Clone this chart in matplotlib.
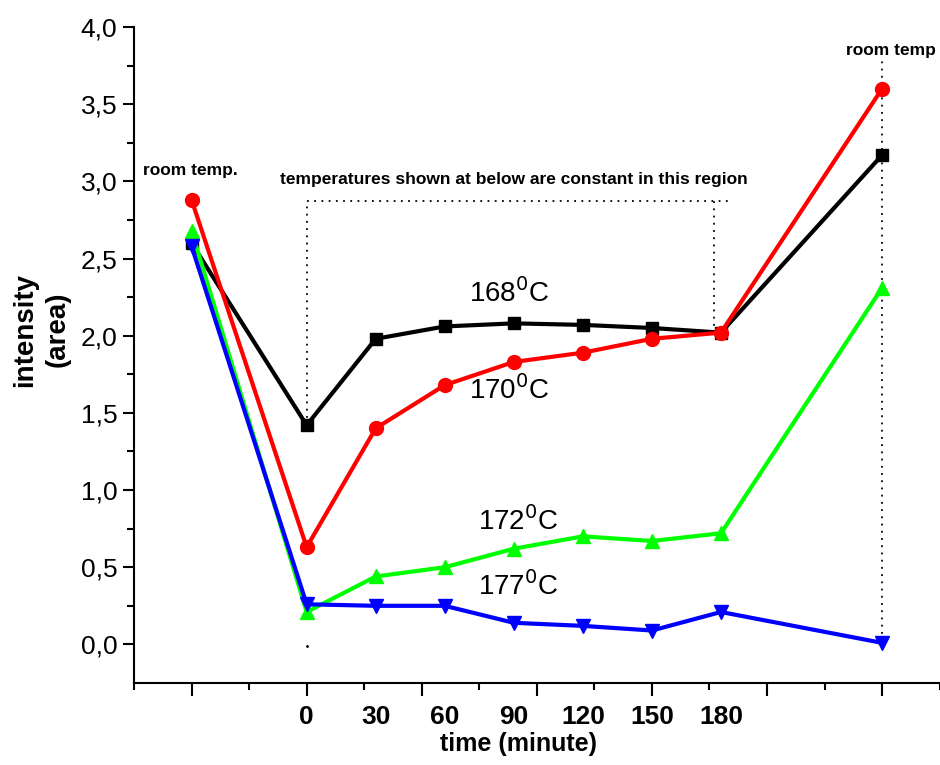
import numpy as np
import matplotlib
matplotlib.use("Agg")
import matplotlib.pyplot as plt
from matplotlib.ticker import FuncFormatter

plt.rcParams['font.family'] = ['Liberation Sans', 'DejaVu Sans']

# x positions: -50 and 250 stand for the room temperature readings
time = [-50, 0, 30, 60, 90, 120, 150, 180, 250]
t168 = [2.60, 1.42, 1.98, 2.06, 2.08, 2.07, 2.05, 2.02, 3.17]
t170 = [2.88, 0.63, 1.40, 1.68, 1.83, 1.89, 1.98, 2.02, 3.60]
t172 = [2.68, 0.21, 0.44, 0.50, 0.62, 0.70, 0.67, 0.72, 2.31]
t177 = [2.58, 0.26, 0.25, 0.25, 0.14, 0.12, 0.09, 0.21, 0.01]

time_labels = [0, 30, 60, 90, 120, 150, 180]

fig = plt.figure(figsize=(9.4, 7.65), dpi=100)
ax = fig.add_axes([0.1426, 0.1072, 0.857, 0.8575])

lw = 3
ms = 10
ax.plot(time, t168, '-s', color='black', lw=lw, ms=ms - 1)
ax.plot(time, t172, '-^', color='#00ff00', lw=lw, ms=ms)
ax.plot(time, t170, '-o', color='red', lw=lw, ms=ms)
ax.plot(time, t177, '-v', color='blue', lw=lw, ms=ms)

# dotted guide lines
dot = dict(color='black', ls=(0, (1, 3)), lw=1.3, zorder=0)
ax.plot([0, 0], [1.42, 2.87], **dot)
ax.plot([0], [-0.01], marker='.', ms=2, color='black')
ax.plot([0, 183], [2.87, 2.87], **dot)
ax.plot([177, 177], [2.02, 2.87], **dot)
ax.plot([250, 250], [0.02, 3.80], **dot)

ax.set_xlim(-75, 275)
ax.set_ylim(-0.25, 4.0)

for s in ['top', 'right']:
    ax.spines[s].set_visible(False)
for s in ['left', 'bottom']:
    ax.spines[s].set_linewidth(1.5)

ax.yaxis.set_major_formatter(FuncFormatter(lambda v, p: f"{v:.1f}".replace('.', ',')))
ax.set_yticks(np.arange(0, 4.01, 0.5))
ax.set_yticks(np.arange(0.25, 4.0, 0.5), minor=True)
ax.tick_params(axis='y', which='major', length=8, width=1.5, labelsize=19, pad=4)
ax.tick_params(axis='y', which='minor', length=5, width=1.5)

ax.set_xticks(np.arange(-50, 275, 50))
ax.set_xticks(np.arange(-75, 276, 50), minor=True)
ax.set_xticklabels([])
ax.tick_params(axis='x', which='major', length=9, width=1.5)
ax.tick_params(axis='x', which='minor', length=5, width=1.5)

for t in time_labels:
    ax.text(t, -0.39, str(t), ha='center', va='top', fontsize=19,
            fontweight='bold')
ax.text(92, -0.57, 'time (minute)', ha='center', va='top', fontsize=18,
        fontweight='bold')

fig.text(0.044, 0.569, 'intensity\n(area)', rotation=90, ha='center',
         va='center', fontsize=20, fontweight='bold', linespacing=1.3)

ax.text(-71, 3.04, 'room temp.', fontsize=12.5, fontweight='bold', ha='left')
ax.text(254, 3.82, 'room temp', fontsize=12.5, fontweight='bold', ha='center')
ax.text(90, 2.98, 'temperatures shown at below are constant in this region',
        fontsize=12.5, fontweight='bold', ha='center')

ax.text(88, 2.22, '168$^0$C', fontsize=20, ha='center')
ax.text(88, 1.59, '170$^0$C', fontsize=20, ha='center')
ax.text(92, 0.74, '172$^0$C', fontsize=20, ha='center')
ax.text(92, 0.32, '177$^0$C', fontsize=20, ha='center')

fig.savefig('out.png', dpi=100)
